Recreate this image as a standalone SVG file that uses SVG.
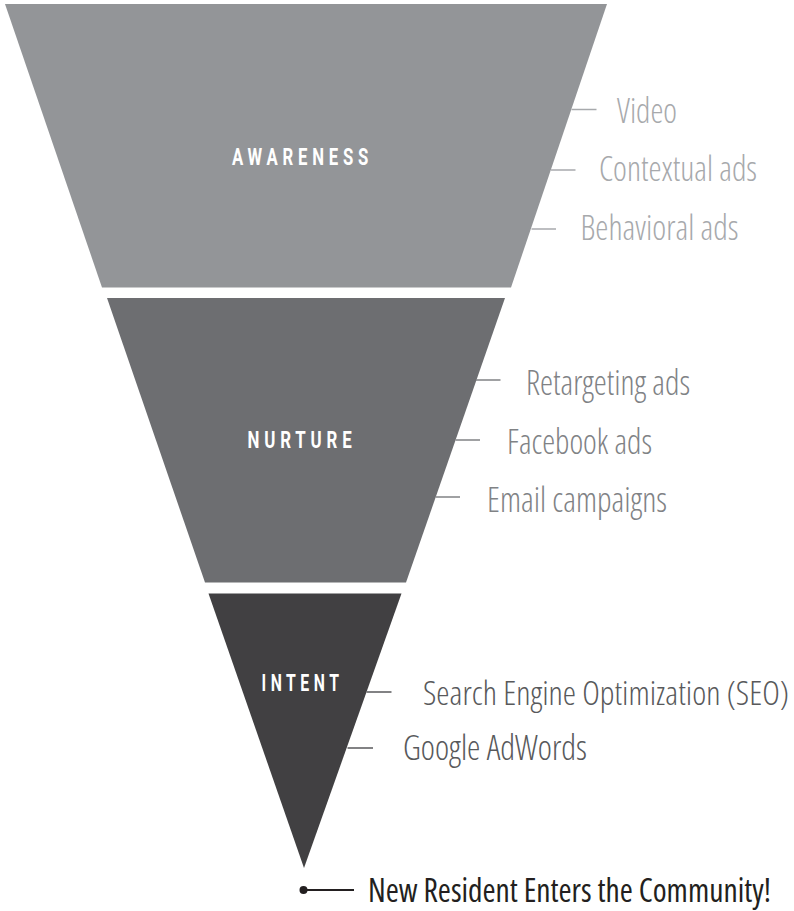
<svg xmlns="http://www.w3.org/2000/svg" width="794" height="911" viewBox="0 0 794 911">
<style>
.stage{font-family:Roboto,"Open Sans","Liberation Sans",sans-serif;font-weight:700;fill:#ffffff;letter-spacing:7px;font-size:24.5px}
.lbl{font-family:"Open Sans","Liberation Sans",sans-serif;font-weight:300;font-size:35px;font-stretch:75%}
.a{fill:#a7a9ac}
.n{fill:#808285}
.i{fill:#58595b}
.la{stroke:#a7a9ac;stroke-width:1.5}
.ln{stroke:#808285;stroke-width:1.5}
.li{stroke:#58595b;stroke-width:1.5}
.final{font-family:"Open Sans","Liberation Sans",sans-serif;font-weight:400;font-size:33px;font-stretch:75%;fill:#231f20}
</style>
<rect width="794" height="911" fill="#ffffff"/>
<g id="awareness">
<polygon points="5,4 607,4 511,287.5 102,287.5" fill="#939598"/>
<text class="stage" x="232" y="165" textLength="141" lengthAdjust="spacingAndGlyphs">AWARENESS</text>
</g>
<g id="nurture">
<polygon points="107,298 505,298 406,582.5 205,582.5" fill="#6d6e71"/>
<text class="stage" x="247.5" y="447.5" textLength="109" lengthAdjust="spacingAndGlyphs">NURTURE</text>
</g>
<g id="intent">
<polygon points="208.5,593.5 401.5,593.5 304,868" fill="#414042"/>
<text class="stage" x="261.5" y="691" textLength="82" lengthAdjust="spacingAndGlyphs">INTENT</text>
</g>
<g id="labels-awareness">
<text class="lbl a" x="617" y="122.5" textLength="60" lengthAdjust="spacingAndGlyphs">Video</text>
<text class="lbl a" x="599" y="181" textLength="158" lengthAdjust="spacingAndGlyphs">Contextual ads</text>
<text class="lbl a" x="580.5" y="240" textLength="158" lengthAdjust="spacingAndGlyphs">Behavioral ads</text>
</g>
<g id="labels-nurture">
<text class="lbl n" x="526" y="395" textLength="164" lengthAdjust="spacingAndGlyphs">Retargeting ads</text>
<text class="lbl n" x="507" y="454" textLength="145" lengthAdjust="spacingAndGlyphs">Facebook ads</text>
<text class="lbl n" x="487" y="512" textLength="180" lengthAdjust="spacingAndGlyphs">Email campaigns</text>
</g>
<g id="labels-intent">
<text class="lbl i" x="423" y="705" textLength="366" lengthAdjust="spacingAndGlyphs" style="font-size:33px">Search Engine Optimization (SEO)</text>
<text class="lbl i" x="403" y="760" textLength="184" lengthAdjust="spacingAndGlyphs">Google AdWords</text>
</g>
<g id="outcome">
<circle cx="303.5" cy="890" r="4" fill="#231f20"/>
<text class="final" x="368" y="901.5" textLength="403" lengthAdjust="spacingAndGlyphs">New Resident Enters the Community!</text>
</g>
<g id="connectors">
<line class="la" x1="571.5" y1="109.5" x2="596.5" y2="109.5"/>
<line class="la" x1="551" y1="170" x2="575.5" y2="170"/>
<line class="la" x1="531.5" y1="229" x2="556" y2="229"/>
<line class="ln" x1="476" y1="380" x2="500.5" y2="380"/>
<line class="ln" x1="455.5" y1="440" x2="480" y2="440"/>
<line class="ln" x1="435.5" y1="497" x2="460" y2="497"/>
<line class="li" x1="366.5" y1="692" x2="391.5" y2="692"/>
<line class="li" x1="347.5" y1="748" x2="373" y2="748"/>
<line stroke="#231f20" stroke-width="1.8" x1="303.5" y1="890" x2="354" y2="890"/>
</g>
</svg>
